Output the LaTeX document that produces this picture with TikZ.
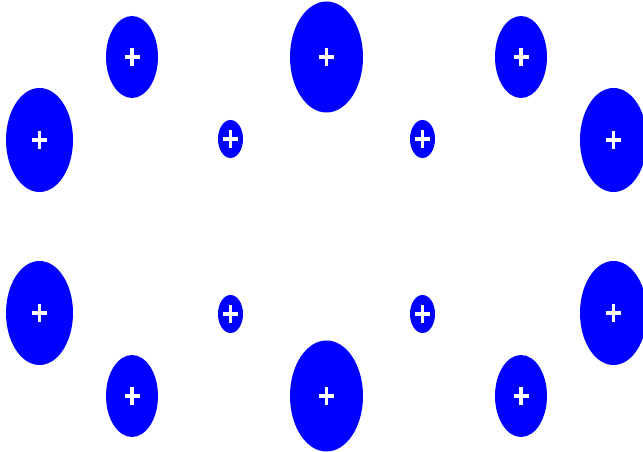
\documentclass[tikz,border=0pt]{standalone}
\begin{document}
\begin{tikzpicture}[
  x=0.03cm, y=0.03cm,
  blob/.style={fill=blue},
  cross/.style={draw=white, line width=0.1cm}
]
\useasboundingbox (0,0) rectangle (643,452);
\clip (0,0) rectangle (643,452);
% outer, side, centre and inner spots, mirrored about the middle
\foreach \n/\x/\y/\rx/\ry in {
    ol1/39.5/312/33.5/52, ol2/39.5/139/33.5/52,
    or1/613.5/312/33.5/52, or2/613.5/139/33.5/52,
    sl1/132/395/26/41, sl2/132/56/26/41,
    sr1/521/395/26/41, sr2/521/56/26/41,
    ct/326.5/395/36.5/55.5, cb/326.5/56/36.5/55.5,
    il1/230.5/313/12.5/19, il2/230.5/138/12.5/19,
    ir1/422.5/313/12.5/19, ir2/422.5/138/12.5/19} {
  \coordinate (\n) at (\x,\y);
  \fill[blob] (\n) ellipse [x radius=\rx, y radius=\ry];
  \draw[cross] ([xshift=-7.5*0.03cm]\n) -- ([xshift=7.5*0.03cm]\n);
  \draw[cross] ([yshift=-9*0.03cm]\n) -- ([yshift=9*0.03cm]\n);
}
\end{tikzpicture}
\end{document}
